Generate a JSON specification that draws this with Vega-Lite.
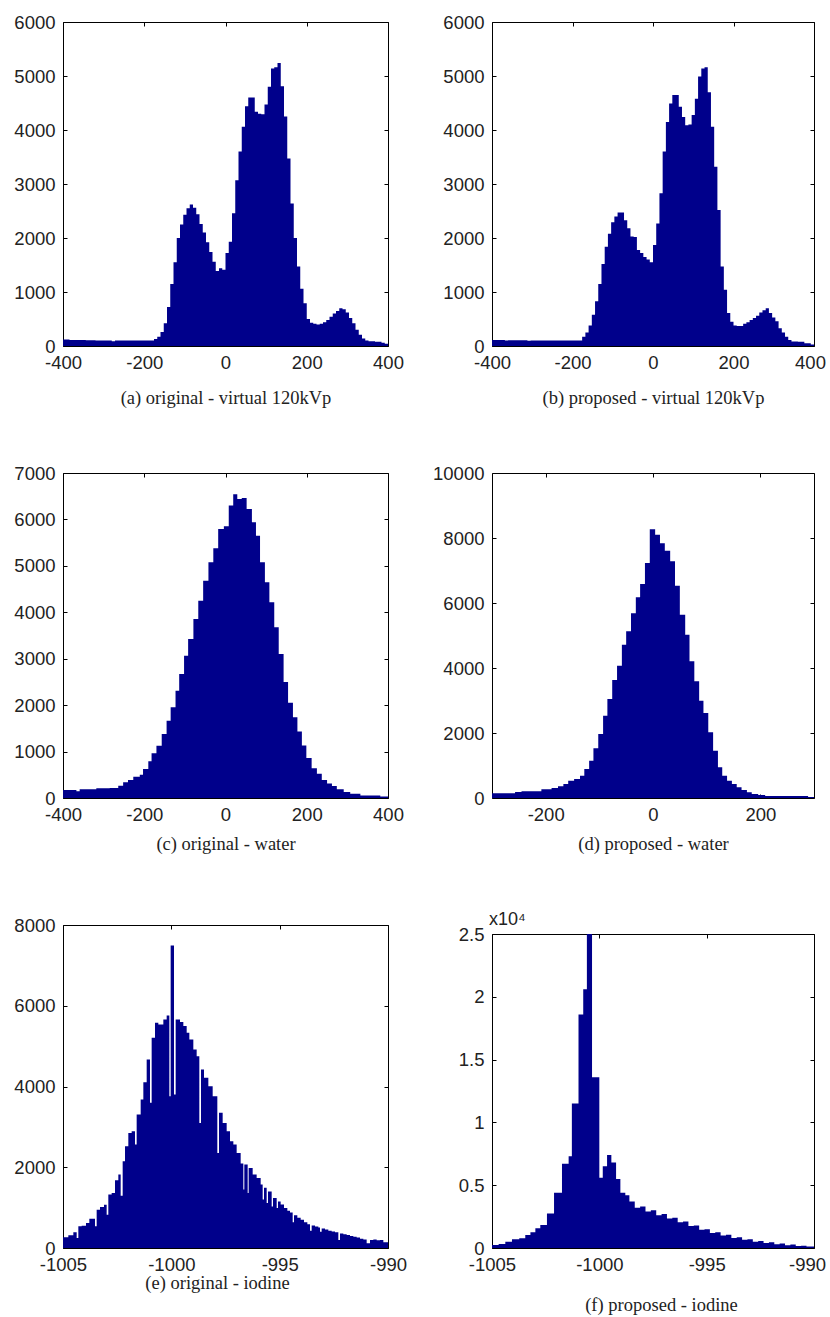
{
  "$schema": "https://vega.github.io/schema/vega-lite/v6.json",
  "autosize": {"type": "none"},
  "padding": {"left": 63, "top": 22, "right": 767, "bottom": 1295},
  "background": "white",
  "config": {
    "view": {"stroke": "#000", "strokeWidth": 1},
    "area": {"color": "#00008b", "interpolate": "step-after"},
    "axis": {"domain": false, "domainColor": "#000", "grid": false, "ticks": true, "tickSize": -4, "tickColor": "#000", "tickWidth": 1,
      "labelFont": "Liberation Sans", "labelFontSize": 18.5, "labelColor": "#222", "labelFlush": false, "labelOverlap": false,
      "titleFont": "Liberation Serif", "titleFontSize": 18.5, "titleFontWeight": "normal", "titleColor": "#222", "titleBaseline": "middle"},
    "axisX": {"labelPadding": 11},
    "axisY": {"labelPadding": 12}
  },
  "datasets": {
    "a": [
      {"x0":-400,"x1":-384,"n":120},{"x0":-384,"x1":-368,"n":110},{"x0":-368,"x1":-344,"n":110},{"x0":-344,"x1":-320,"n":105},{"x0":-320,"x1":-280,"n":100},{"x0":-280,"x1":-272,"n":90},{"x0":-272,"x1":-240,"n":100},{"x0":-240,"x1":-200,"n":100},{"x0":-200,"x1":-176,"n":100},{"x0":-176,"x1":-168,"n":130},{"x0":-168,"x1":-160,"n":170},{"x0":-160,"x1":-152,"n":260},{"x0":-152,"x1":-144,"n":420},{"x0":-144,"x1":-136,"n":720},{"x0":-136,"x1":-128,"n":1150},{"x0":-128,"x1":-120,"n":1550},{"x0":-120,"x1":-112,"n":2000},{"x0":-112,"x1":-104,"n":2250},{"x0":-104,"x1":-96,"n":2430},{"x0":-96,"x1":-88,"n":2550},{"x0":-88,"x1":-80,"n":2620},{"x0":-80,"x1":-72,"n":2560},{"x0":-72,"x1":-64,"n":2440},{"x0":-64,"x1":-56,"n":2260},{"x0":-56,"x1":-48,"n":2100},{"x0":-48,"x1":-40,"n":1920},{"x0":-40,"x1":-32,"n":1740},{"x0":-32,"x1":-24,"n":1560},{"x0":-24,"x1":-16,"n":1390},{"x0":-16,"x1":-8,"n":1440},{"x0":-8,"x1":0,"n":1410},{"x0":0,"x1":8,"n":1720},{"x0":8,"x1":16,"n":1930},{"x0":16,"x1":24,"n":2460},{"x0":24,"x1":32,"n":3070},{"x0":32,"x1":40,"n":3600},{"x0":40,"x1":48,"n":4060},{"x0":48,"x1":56,"n":4440},{"x0":56,"x1":64,"n":4600},{"x0":64,"x1":72,"n":4600},{"x0":72,"x1":80,"n":4340},{"x0":80,"x1":88,"n":4300},{"x0":88,"x1":96,"n":4290},{"x0":96,"x1":104,"n":4470},{"x0":104,"x1":112,"n":4800},{"x0":112,"x1":120,"n":5140},{"x0":120,"x1":128,"n":5160},{"x0":128,"x1":136,"n":5240},{"x0":136,"x1":144,"n":4810},{"x0":144,"x1":152,"n":4250},{"x0":152,"x1":160,"n":3470},{"x0":160,"x1":168,"n":2640},{"x0":168,"x1":176,"n":2000},{"x0":176,"x1":184,"n":1470},{"x0":184,"x1":192,"n":1060},{"x0":192,"x1":200,"n":790},{"x0":200,"x1":208,"n":500},{"x0":208,"x1":216,"n":430},{"x0":216,"x1":224,"n":410},{"x0":224,"x1":232,"n":400},{"x0":232,"x1":240,"n":410},{"x0":240,"x1":248,"n":440},{"x0":248,"x1":256,"n":480},{"x0":256,"x1":264,"n":540},{"x0":264,"x1":272,"n":600},{"x0":272,"x1":280,"n":650},{"x0":280,"x1":288,"n":700},{"x0":288,"x1":296,"n":680},{"x0":296,"x1":304,"n":620},{"x0":304,"x1":312,"n":520},{"x0":312,"x1":320,"n":420},{"x0":320,"x1":328,"n":300},{"x0":328,"x1":336,"n":210},{"x0":336,"x1":344,"n":140},{"x0":344,"x1":352,"n":100},{"x0":352,"x1":368,"n":90},{"x0":368,"x1":384,"n":80},{"x0":384,"x1":392,"n":60},{"x0":392,"x1":400,"n":40},{"x0":400,"x1":400,"n":40}
    ],
    "b": [
      {"x0":-400,"x1":-368,"n":110},{"x0":-368,"x1":-360,"n":100},{"x0":-360,"x1":-312,"n":105},{"x0":-312,"x1":-304,"n":95},{"x0":-304,"x1":-240,"n":100},{"x0":-240,"x1":-176,"n":100},{"x0":-176,"x1":-168,"n":170},{"x0":-168,"x1":-160,"n":250},{"x0":-160,"x1":-152,"n":380},{"x0":-152,"x1":-144,"n":580},{"x0":-144,"x1":-136,"n":830},{"x0":-136,"x1":-128,"n":1150},{"x0":-128,"x1":-120,"n":1520},{"x0":-120,"x1":-112,"n":1840},{"x0":-112,"x1":-104,"n":2080},{"x0":-104,"x1":-96,"n":2290},{"x0":-96,"x1":-88,"n":2400},{"x0":-88,"x1":-80,"n":2470},{"x0":-80,"x1":-72,"n":2470},{"x0":-72,"x1":-64,"n":2330},{"x0":-64,"x1":-56,"n":2180},{"x0":-56,"x1":-48,"n":2030},{"x0":-48,"x1":-40,"n":2020},{"x0":-40,"x1":-32,"n":1780},{"x0":-32,"x1":-24,"n":1720},{"x0":-24,"x1":-16,"n":1650},{"x0":-16,"x1":-8,"n":1600},{"x0":-8,"x1":0,"n":1550},{"x0":0,"x1":8,"n":1870},{"x0":8,"x1":16,"n":2270},{"x0":16,"x1":24,"n":2830},{"x0":24,"x1":32,"n":3600},{"x0":32,"x1":40,"n":4150},{"x0":40,"x1":48,"n":4490},{"x0":48,"x1":56,"n":4650},{"x0":56,"x1":64,"n":4650},{"x0":64,"x1":72,"n":4430},{"x0":72,"x1":80,"n":4240},{"x0":80,"x1":88,"n":4090},{"x0":88,"x1":96,"n":4100},{"x0":96,"x1":104,"n":4280},{"x0":104,"x1":112,"n":4580},{"x0":112,"x1":120,"n":4990},{"x0":120,"x1":128,"n":5140},{"x0":128,"x1":136,"n":5160},{"x0":136,"x1":144,"n":4700},{"x0":144,"x1":152,"n":4060},{"x0":152,"x1":160,"n":3320},{"x0":160,"x1":168,"n":2520},{"x0":168,"x1":176,"n":1470},{"x0":176,"x1":184,"n":1040},{"x0":184,"x1":192,"n":610},{"x0":192,"x1":200,"n":450},{"x0":200,"x1":208,"n":380},{"x0":208,"x1":216,"n":370},{"x0":216,"x1":224,"n":370},{"x0":224,"x1":232,"n":410},{"x0":232,"x1":240,"n":440},{"x0":240,"x1":248,"n":480},{"x0":248,"x1":256,"n":520},{"x0":256,"x1":264,"n":560},{"x0":264,"x1":272,"n":620},{"x0":272,"x1":280,"n":660},{"x0":280,"x1":288,"n":700},{"x0":288,"x1":296,"n":610},{"x0":296,"x1":304,"n":530},{"x0":304,"x1":312,"n":460},{"x0":312,"x1":320,"n":330},{"x0":320,"x1":328,"n":250},{"x0":328,"x1":336,"n":170},{"x0":336,"x1":344,"n":110},{"x0":344,"x1":360,"n":85},{"x0":360,"x1":376,"n":80},{"x0":376,"x1":392,"n":50},{"x0":392,"x1":400,"n":30},{"x0":400,"x1":400,"n":30}
    ],
    "c": [
      {"x0":-400,"x1":-367,"n":172},{"x0":-367,"x1":-359,"n":144},{"x0":-359,"x1":-318,"n":187},{"x0":-318,"x1":-285,"n":208},{"x0":-285,"x1":-264,"n":215},{"x0":-264,"x1":-252,"n":266},{"x0":-252,"x1":-240,"n":337},{"x0":-240,"x1":-227,"n":388},{"x0":-227,"x1":-211,"n":459},{"x0":-211,"x1":-203,"n":502},{"x0":-203,"x1":-190,"n":625},{"x0":-190,"x1":-182,"n":790},{"x0":-182,"x1":-170,"n":962},{"x0":-170,"x1":-157,"n":1127},{"x0":-157,"x1":-145,"n":1378},{"x0":-145,"x1":-135,"n":1666},{"x0":-135,"x1":-123,"n":1953},{"x0":-123,"x1":-114,"n":2312},{"x0":-114,"x1":-102,"n":2671},{"x0":-102,"x1":-92,"n":3065},{"x0":-92,"x1":-79,"n":3424},{"x0":-79,"x1":-67,"n":3855},{"x0":-67,"x1":-55,"n":4250},{"x0":-55,"x1":-42,"n":4681},{"x0":-42,"x1":-30,"n":5076},{"x0":-30,"x1":-18,"n":5377},{"x0":-18,"x1":-4,"n":5793},{"x0":-4,"x1":8,"n":5851},{"x0":8,"x1":19,"n":6300},{"x0":19,"x1":29,"n":6540},{"x0":29,"x1":40,"n":6440},{"x0":40,"x1":52,"n":6460},{"x0":52,"x1":65,"n":6224},{"x0":65,"x1":75,"n":5937},{"x0":75,"x1":85,"n":5650},{"x0":85,"x1":97,"n":5076},{"x0":97,"x1":108,"n":4645},{"x0":108,"x1":120,"n":4214},{"x0":120,"x1":131,"n":3676},{"x0":131,"x1":143,"n":3100},{"x0":143,"x1":154,"n":2500},{"x0":154,"x1":166,"n":2050},{"x0":166,"x1":177,"n":1740},{"x0":177,"x1":188,"n":1430},{"x0":188,"x1":199,"n":1130},{"x0":199,"x1":212,"n":860},{"x0":212,"x1":225,"n":640},{"x0":225,"x1":237,"n":520},{"x0":237,"x1":250,"n":390},{"x0":250,"x1":262,"n":310},{"x0":262,"x1":274,"n":260},{"x0":274,"x1":291,"n":190},{"x0":291,"x1":307,"n":130},{"x0":307,"x1":332,"n":90},{"x0":332,"x1":381,"n":55},{"x0":381,"x1":400,"n":30},{"x0":400,"x1":400,"n":30}
    ],
    "d": [
      {"x0":-300,"x1":-257,"n":144},{"x0":-257,"x1":-245,"n":185},{"x0":-245,"x1":-208,"n":205},{"x0":-208,"x1":-189,"n":267},{"x0":-189,"x1":-177,"n":308},{"x0":-177,"x1":-167,"n":359},{"x0":-167,"x1":-158,"n":431},{"x0":-158,"x1":-147,"n":533},{"x0":-147,"x1":-136,"n":585},{"x0":-136,"x1":-128,"n":687},{"x0":-128,"x1":-119,"n":892},{"x0":-119,"x1":-111,"n":1149},{"x0":-111,"x1":-102,"n":1528},{"x0":-102,"x1":-93,"n":1969},{"x0":-93,"x1":-85,"n":2533},{"x0":-85,"x1":-76,"n":3046},{"x0":-76,"x1":-67,"n":3631},{"x0":-67,"x1":-58,"n":4072},{"x0":-58,"x1":-50,"n":4718},{"x0":-50,"x1":-41,"n":5128},{"x0":-41,"x1":-32,"n":5682},{"x0":-32,"x1":-24,"n":6174},{"x0":-24,"x1":-15,"n":6584},{"x0":-15,"x1":-6,"n":7230},{"x0":-6,"x1":4,"n":8266},{"x0":4,"x1":13,"n":8102},{"x0":13,"x1":22,"n":7836},{"x0":22,"x1":32,"n":7610},{"x0":32,"x1":41,"n":7282},{"x0":41,"x1":50,"n":6533},{"x0":50,"x1":60,"n":5641},{"x0":60,"x1":68,"n":5025},{"x0":68,"x1":77,"n":4205},{"x0":77,"x1":86,"n":3590},{"x0":86,"x1":94,"n":2995},{"x0":94,"x1":103,"n":2615},{"x0":103,"x1":112,"n":2020},{"x0":112,"x1":121,"n":1456},{"x0":121,"x1":129,"n":944},{"x0":129,"x1":138,"n":687},{"x0":138,"x1":147,"n":533},{"x0":147,"x1":156,"n":431},{"x0":156,"x1":165,"n":328},{"x0":165,"x1":175,"n":246},{"x0":175,"x1":184,"n":174},{"x0":184,"x1":196,"n":123},{"x0":196,"x1":209,"n":92},{"x0":209,"x1":289,"n":61},{"x0":289,"x1":300,"n":30},{"x0":300,"x1":300,"n":30}
    ],
    "e": [
      {"x0":-1005,"x1":-1004.754,"n":264},{"x0":-1004.754,"x1":-1004.523,"n":314},{"x0":-1004.523,"x1":-1004.369,"n":388},{"x0":-1004.369,"x1":-1004.292,"n":248},{"x0":-1004.292,"x1":-1004.138,"n":537},{"x0":-1004.138,"x1":-1003.938,"n":554},{"x0":-1003.938,"x1":-1003.785,"n":620},{"x0":-1003.785,"x1":-1003.523,"n":727},{"x0":-1003.523,"x1":-1003.446,"n":537},{"x0":-1003.446,"x1":-1003.292,"n":950},{"x0":-1003.292,"x1":-1003.108,"n":1016},{"x0":-1003.108,"x1":-1002.985,"n":1074},{"x0":-1002.985,"x1":-1002.908,"n":826},{"x0":-1002.908,"x1":-1002.754,"n":1322},{"x0":-1002.754,"x1":-1002.6,"n":1364},{"x0":-1002.6,"x1":-1002.446,"n":1678},{"x0":-1002.446,"x1":-1002.338,"n":1818},{"x0":-1002.338,"x1":-1002.246,"n":1297},{"x0":-1002.246,"x1":-1002.138,"n":2149},{"x0":-1002.138,"x1":-1001.985,"n":2520},{"x0":-1001.985,"x1":-1001.831,"n":2851},{"x0":-1001.831,"x1":-1001.677,"n":2892},{"x0":-1001.677,"x1":-1001.6,"n":2562},{"x0":-1001.6,"x1":-1001.415,"n":3306},{"x0":-1001.415,"x1":-1001.292,"n":3678},{"x0":-1001.292,"x1":-1001.138,"n":4107},{"x0":-1001.138,"x1":-1000.985,"n":4669},{"x0":-1000.985,"x1":-1000.908,"n":3595},{"x0":-1000.908,"x1":-1000.754,"n":5206},{"x0":-1000.754,"x1":-1000.6,"n":5578},{"x0":-1000.6,"x1":-1000.369,"n":5537},{"x0":-1000.369,"x1":-1000.215,"n":5661},{"x0":-1000.215,"x1":-1000.092,"n":5760},{"x0":-1000.092,"x1":-1000.031,"n":3760},{"x0":-1000.031,"x1":-999.877,"n":7495},{"x0":-999.877,"x1":-999.8,"n":3801},{"x0":-999.8,"x1":-999.6,"n":5661},{"x0":-999.6,"x1":-999.446,"n":5595},{"x0":-999.446,"x1":-999.292,"n":5496},{"x0":-999.292,"x1":-999.169,"n":5330},{"x0":-999.169,"x1":-998.985,"n":5165},{"x0":-998.985,"x1":-998.831,"n":4917},{"x0":-998.831,"x1":-998.708,"n":4752},{"x0":-998.708,"x1":-998.631,"n":3099},{"x0":-998.631,"x1":-998.492,"n":4421},{"x0":-998.492,"x1":-998.292,"n":4215},{"x0":-998.292,"x1":-998.092,"n":4008},{"x0":-998.092,"x1":-997.877,"n":3760},{"x0":-997.877,"x1":-997.8,"n":2355},{"x0":-997.8,"x1":-997.631,"n":3347},{"x0":-997.631,"x1":-997.446,"n":3099},{"x0":-997.446,"x1":-997.292,"n":2892},{"x0":-997.292,"x1":-997.138,"n":2645},{"x0":-997.138,"x1":-996.985,"n":2562},{"x0":-996.985,"x1":-996.8,"n":2355},{"x0":-996.8,"x1":-996.677,"n":2091},{"x0":-996.677,"x1":-996.631,"n":1446},{"x0":-996.631,"x1":-996.477,"n":2066},{"x0":-996.477,"x1":-996.431,"n":1364},{"x0":-996.431,"x1":-996.246,"n":1983},{"x0":-996.246,"x1":-996.062,"n":1818},{"x0":-996.062,"x1":-995.877,"n":1735},{"x0":-995.877,"x1":-995.785,"n":1570},{"x0":-995.785,"x1":-995.723,"n":1200},{"x0":-995.723,"x1":-995.6,"n":1490},{"x0":-995.6,"x1":-995.538,"n":1115},{"x0":-995.538,"x1":-995.369,"n":1400},{"x0":-995.369,"x1":-995.308,"n":1030},{"x0":-995.308,"x1":-995.138,"n":1240},{"x0":-995.138,"x1":-995.077,"n":990},{"x0":-995.077,"x1":-994.954,"n":1150},{"x0":-994.954,"x1":-994.8,"n":1080},{"x0":-994.8,"x1":-994.646,"n":990},{"x0":-994.646,"x1":-994.523,"n":920},{"x0":-994.523,"x1":-994.4,"n":880},{"x0":-994.4,"x1":-994.338,"n":640},{"x0":-994.338,"x1":-994.185,"n":810},{"x0":-994.185,"x1":-994.031,"n":750},{"x0":-994.031,"x1":-993.877,"n":700},{"x0":-993.877,"x1":-993.723,"n":640},{"x0":-993.723,"x1":-993.6,"n":590},{"x0":-993.6,"x1":-993.523,"n":430},{"x0":-993.523,"x1":-993.369,"n":560},{"x0":-993.369,"x1":-993.215,"n":530},{"x0":-993.215,"x1":-993.138,"n":510},{"x0":-993.138,"x1":-993.062,"n":400},{"x0":-993.062,"x1":-992.908,"n":480},{"x0":-992.908,"x1":-992.754,"n":460},{"x0":-992.754,"x1":-992.6,"n":430},{"x0":-992.6,"x1":-992.446,"n":410},{"x0":-992.446,"x1":-992.292,"n":390},{"x0":-992.292,"x1":-992.215,"n":200},{"x0":-992.215,"x1":-992.062,"n":360},{"x0":-992.062,"x1":-991.908,"n":340},{"x0":-991.908,"x1":-991.754,"n":320},{"x0":-991.754,"x1":-991.6,"n":300},{"x0":-991.6,"x1":-991.446,"n":280},{"x0":-991.446,"x1":-991.292,"n":260},{"x0":-991.292,"x1":-991.138,"n":230},{"x0":-991.138,"x1":-990.985,"n":210},{"x0":-990.985,"x1":-990.831,"n":120},{"x0":-990.831,"x1":-990.677,"n":200},{"x0":-990.677,"x1":-990.523,"n":210},{"x0":-990.523,"x1":-990.369,"n":190},{"x0":-990.369,"x1":-990.215,"n":200},{"x0":-990.215,"x1":-990,"n":140},{"x0":-990,"x1":-990,"n":140}
    ],
    "f": [
      {"x0":-1005,"x1":-1004.69,"n":240},{"x0":-1004.69,"x1":-1004.38,"n":320},{"x0":-1004.38,"x1":-1004.07,"n":500},{"x0":-1004.07,"x1":-1003.73,"n":690},{"x0":-1003.73,"x1":-1003.45,"n":770},{"x0":-1003.45,"x1":-1003.21,"n":1040},{"x0":-1003.21,"x1":-1002.98,"n":1250},{"x0":-1002.98,"x1":-1002.75,"n":1570},{"x0":-1002.75,"x1":-1002.44,"n":1830},{"x0":-1002.44,"x1":-1002.11,"n":2750},{"x0":-1002.11,"x1":-1001.74,"n":4400},{"x0":-1001.74,"x1":-1001.43,"n":6700},{"x0":-1001.43,"x1":-1001.28,"n":7300},{"x0":-1001.28,"x1":-1000.97,"n":11500},{"x0":-1000.97,"x1":-1000.75,"n":18600},{"x0":-1000.75,"x1":-1000.58,"n":20600},{"x0":-1000.58,"x1":-1000.34,"n":25000},{"x0":-1000.34,"x1":-1000,"n":13600},{"x0":-1000,"x1":-999.84,"n":5600},{"x0":-999.84,"x1":-999.64,"n":6500},{"x0":-999.64,"x1":-999.44,"n":7400},{"x0":-999.44,"x1":-999.22,"n":6800},{"x0":-999.22,"x1":-999.02,"n":5500},{"x0":-999.02,"x1":-998.79,"n":4400},{"x0":-998.79,"x1":-998.6,"n":4200},{"x0":-998.6,"x1":-998.35,"n":3700},{"x0":-998.35,"x1":-998.1,"n":3200},{"x0":-998.1,"x1":-997.85,"n":3300},{"x0":-997.85,"x1":-997.6,"n":2900},{"x0":-997.6,"x1":-997.35,"n":3000},{"x0":-997.35,"x1":-997.1,"n":2600},{"x0":-997.1,"x1":-996.85,"n":2700},{"x0":-996.85,"x1":-996.6,"n":2350},{"x0":-996.6,"x1":-996.35,"n":2400},{"x0":-996.35,"x1":-996.1,"n":2050},{"x0":-996.1,"x1":-995.85,"n":2100},{"x0":-995.85,"x1":-995.6,"n":1750},{"x0":-995.6,"x1":-995.35,"n":1800},{"x0":-995.35,"x1":-995.1,"n":1450},{"x0":-995.1,"x1":-994.85,"n":1500},{"x0":-994.85,"x1":-994.6,"n":1200},{"x0":-994.6,"x1":-994.35,"n":1250},{"x0":-994.35,"x1":-994.1,"n":1000},{"x0":-994.1,"x1":-993.85,"n":1050},{"x0":-993.85,"x1":-993.6,"n":800},{"x0":-993.6,"x1":-993.35,"n":850},{"x0":-993.35,"x1":-993.1,"n":650},{"x0":-993.1,"x1":-992.85,"n":700},{"x0":-992.85,"x1":-992.6,"n":500},{"x0":-992.6,"x1":-992.35,"n":550},{"x0":-992.35,"x1":-992.1,"n":400},{"x0":-992.1,"x1":-991.85,"n":450},{"x0":-991.85,"x1":-991.6,"n":300},{"x0":-991.6,"x1":-991.35,"n":350},{"x0":-991.35,"x1":-991.1,"n":220},{"x0":-991.1,"x1":-990.85,"n":280},{"x0":-990.85,"x1":-990.6,"n":150},{"x0":-990.6,"x1":-990.35,"n":170},{"x0":-990.35,"x1":-990,"n":120},{"x0":-990,"x1":-990,"n":120}
    ]
  },
  "columns": 2,
  "bounds": "flush",
  "spacing": {"row": 127, "column": 104},
  "concat": [
    {
      "width": 325, "height": 324,
      "data": {"name": "a"},
      "layer": [
        {"mark": {"type": "area"},
         "encoding": {
           "x": {"field": "x0", "type": "quantitative", "scale": {"domain": [-400, 400], "nice": false, "zero": false},
                 "axis": {"orient": "bottom", "values": [-400, -200, 0, 200, 400], "labelExpr": "datum.value < 0 ? '-' + (-datum.value) : '' + datum.value", "title": "(a) original - virtual 120kVp", "titleY": 51}},
           "y": {"field": "n", "type": "quantitative", "scale": {"domain": [0, 6000], "nice": false},
                 "axis": {"orient": "left", "values": [0, 1000, 2000, 3000, 4000, 5000, 6000], "format": "d", "title": null}}
         }},
        {"mark": {"type": "point", "opacity": 0},
         "encoding": {
           "x": {"field": "x0", "type": "quantitative", "axis": {"orient": "top", "values": [-400, -200, 0, 200, 400], "labels": false, "title": null}},
           "y": {"field": "n", "type": "quantitative", "axis": {"orient": "right", "values": [0, 1000, 2000, 3000, 4000, 5000, 6000], "labels": false, "title": null}}
         }}
      ],
      "resolve": {"axis": {"x": "independent", "y": "independent"}}
    },
    {
      "width": 322, "height": 324,
      "data": {"name": "b"},
      "layer": [
        {"mark": {"type": "area"},
         "encoding": {
           "x": {"field": "x0", "type": "quantitative", "scale": {"domain": [-400, 400], "nice": false, "zero": false},
                 "axis": {"orient": "bottom", "values": [-400, -200, 0, 200, 400], "labelExpr": "datum.value < 0 ? '-' + (-datum.value) : '' + datum.value",
                          "labelOffset": {"condition": {"test": "datum.value == 400", "value": -4}, "value": 0},
                          "title": "(b) proposed - virtual 120kVp", "titleY": 51}},
           "y": {"field": "n", "type": "quantitative", "scale": {"domain": [0, 6000], "nice": false},
                 "axis": {"orient": "left", "values": [0, 1000, 2000, 3000, 4000, 5000, 6000], "format": "d", "title": null}}
         }},
        {"mark": {"type": "point", "opacity": 0},
         "encoding": {
           "x": {"field": "x0", "type": "quantitative", "axis": {"orient": "top", "values": [-400, -200, 0, 200, 400], "labels": false, "title": null}},
           "y": {"field": "n", "type": "quantitative", "axis": {"orient": "right", "values": [0, 1000, 2000, 3000, 4000, 5000, 6000], "labels": false, "title": null}}
         }}
      ],
      "resolve": {"axis": {"x": "independent", "y": "independent"}}
    },
    {
      "width": 325, "height": 325,
      "data": {"name": "c"},
      "layer": [
        {"mark": {"type": "area"},
         "encoding": {
           "x": {"field": "x0", "type": "quantitative", "scale": {"domain": [-400, 400], "nice": false, "zero": false},
                 "axis": {"orient": "bottom", "values": [-400, -200, 0, 200, 400], "labelExpr": "datum.value < 0 ? '-' + (-datum.value) : '' + datum.value", "title": "(c) original - water", "titleY": 45}},
           "y": {"field": "n", "type": "quantitative", "scale": {"domain": [0, 7000], "nice": false},
                 "axis": {"orient": "left", "values": [0, 1000, 2000, 3000, 4000, 5000, 6000, 7000], "format": "d", "title": null}}
         }},
        {"mark": {"type": "point", "opacity": 0},
         "encoding": {
           "x": {"field": "x0", "type": "quantitative", "axis": {"orient": "top", "values": [-400, -200, 0, 200, 400], "labels": false, "title": null}},
           "y": {"field": "n", "type": "quantitative", "axis": {"orient": "right", "values": [0, 1000, 2000, 3000, 4000, 5000, 6000, 7000], "labels": false, "title": null}}
         }}
      ],
      "resolve": {"axis": {"x": "independent", "y": "independent"}}
    },
    {
      "width": 322, "height": 325,
      "data": {"name": "d"},
      "layer": [
        {"mark": {"type": "area"},
         "encoding": {
           "x": {"field": "x0", "type": "quantitative", "scale": {"domain": [-300, 300], "nice": false, "zero": false},
                 "axis": {"orient": "bottom", "values": [-200, 0, 200], "labelExpr": "datum.value < 0 ? '-' + (-datum.value) : '' + datum.value", "title": "(d) proposed - water", "titleY": 45}},
           "y": {"field": "n", "type": "quantitative", "scale": {"domain": [0, 10000], "nice": false},
                 "axis": {"orient": "left", "values": [0, 2000, 4000, 6000, 8000, 10000], "format": "d", "title": null}}
         }},
        {"mark": {"type": "point", "opacity": 0},
         "encoding": {
           "x": {"field": "x0", "type": "quantitative", "axis": {"orient": "top", "values": [-200, 0, 200], "labels": false, "title": null}},
           "y": {"field": "n", "type": "quantitative", "axis": {"orient": "right", "values": [0, 2000, 4000, 6000, 8000, 10000], "labels": false, "title": null}}
         }}
      ],
      "resolve": {"axis": {"x": "independent", "y": "independent"}}
    },
    {
      "width": 325, "height": 323,
      "data": {"name": "e"},
      "layer": [
        {"mark": {"type": "area"},
         "encoding": {
           "x": {"field": "x0", "type": "quantitative", "scale": {"domain": [-1005, -990], "nice": false, "zero": false},
                 "axis": {"orient": "bottom", "values": [-1005, -1000, -995, -990], "labelExpr": "datum.value < 0 ? '-' + (-datum.value) : '' + datum.value", "title": "(e) original - iodine", "titleY": 34, "titleX": 154}},
           "y": {"field": "n", "type": "quantitative", "scale": {"domain": [0, 8000], "nice": false},
                 "axis": {"orient": "left", "values": [0, 2000, 4000, 6000, 8000], "format": "d", "title": null}}
         }},
        {"mark": {"type": "point", "opacity": 0},
         "encoding": {
           "x": {"field": "x0", "type": "quantitative", "axis": {"orient": "top", "values": [-1005, -1000, -995, -990], "labels": false, "title": null}},
           "y": {"field": "n", "type": "quantitative", "axis": {"orient": "right", "values": [0, 2000, 4000, 6000, 8000], "labels": false, "title": null}}
         }}
      ],
      "resolve": {"axis": {"x": "independent", "y": "independent"}}
    },
    {
      "width": 322, "height": 323,
      "view": {"stroke": null},
      "title": {"text": "x10⁴", "anchor": "start", "frame": "group", "offset": -4, "font": "Liberation Sans", "fontSize": 18, "fontWeight": "normal", "color": "#222", "dx": -3},
      "data": {"name": "f"},
      "layer": [
        {"mark": {"type": "area"},
         "encoding": {
           "x": {"field": "x0", "type": "quantitative", "scale": {"domain": [-1005, -990], "nice": false, "zero": false},
                 "axis": {"orient": "bottom", "domain": true, "values": [-1005, -1000, -995, -990], "labelExpr": "datum.value < 0 ? '-' + (-datum.value) : '' + datum.value",
                          "labelOffset": {"condition": {"test": "datum.value == -990", "value": -7}, "value": 0},
                          "title": "(f) proposed - iodine", "titleY": 56, "titleX": 169}},
           "y": {"field": "n", "type": "quantitative", "scale": {"domain": [0, 25000], "nice": false, "range": [323, 9]},
                 "axis": {"orient": "left", "domain": true, "values": [0, 5000, 10000, 15000, 20000, 25000], "labelExpr": "format(datum.value / 10000, '~g')", "title": null}}
         }},
        {"mark": {"type": "point", "opacity": 0},
         "encoding": {
           "x": {"field": "x0", "type": "quantitative", "axis": {"orient": "top", "domain": true, "offset": -9, "values": [-1005, -1000, -995, -990], "labels": false, "title": null}},
           "y": {"field": "n", "type": "quantitative", "axis": {"orient": "right", "domain": true, "values": [0, 5000, 10000, 15000, 20000, 25000], "labels": false, "title": null}}
         }}
      ],
      "resolve": {"axis": {"x": "independent", "y": "independent"}}
    }
  ]
}
